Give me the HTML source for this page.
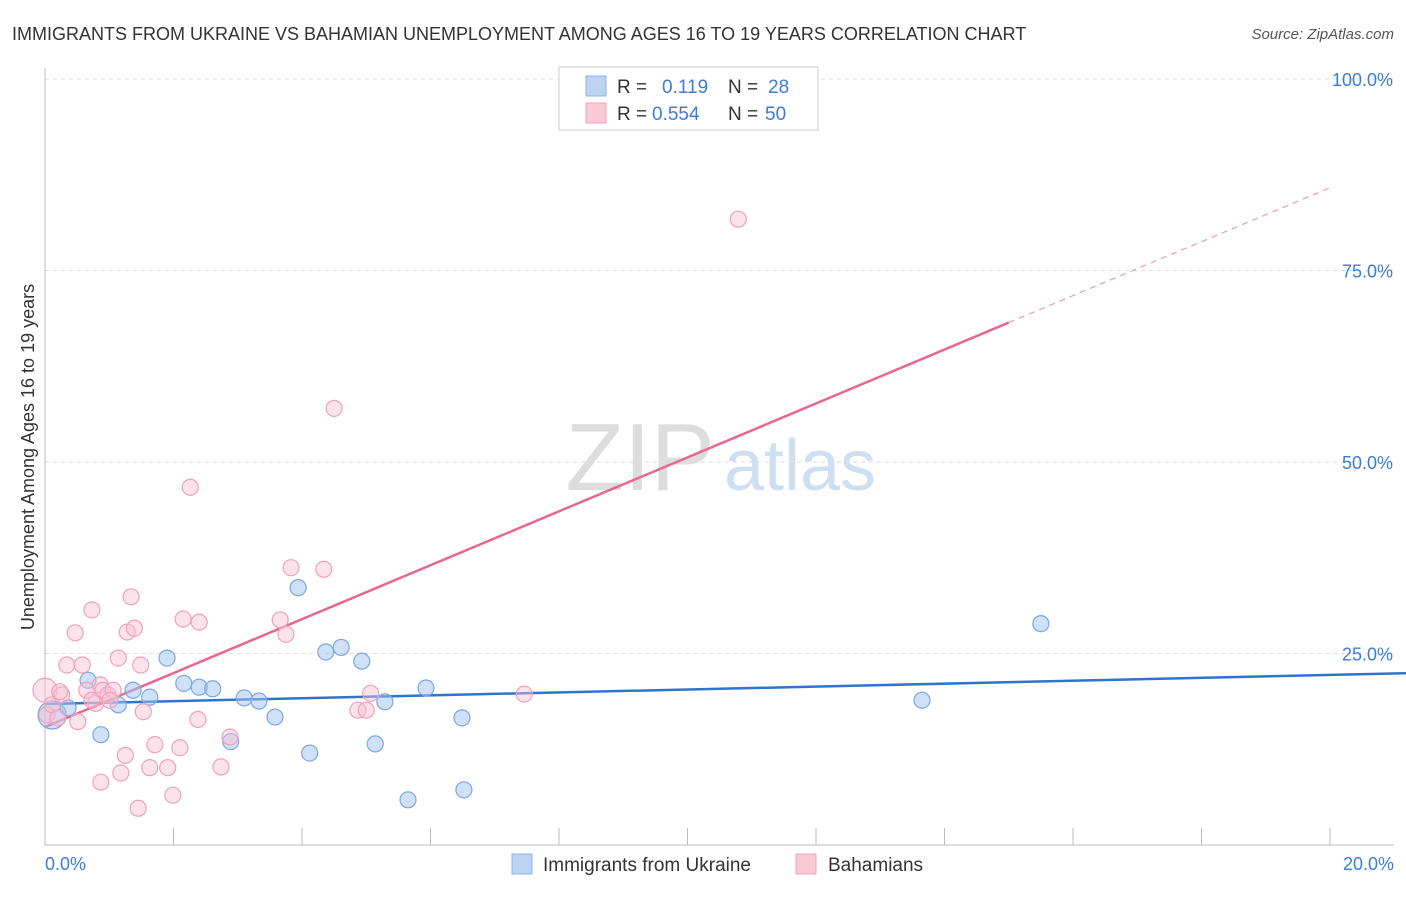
<!DOCTYPE html>
<html><head><meta charset="utf-8"><style>
body{margin:0;background:#fff;font-family:"Liberation Sans",sans-serif}
svg text{font-family:"Liberation Sans",sans-serif}
</style></head><body>
<svg id="chart" width="1406" height="892">
<text x="12" y="40" font-size="18" fill="#333">IMMIGRANTS FROM UKRAINE VS BAHAMIAN UNEMPLOYMENT AMONG AGES 16 TO 19 YEARS CORRELATION CHART</text>
<text x="1394" y="39" font-size="15" fill="#555" font-style="italic" text-anchor="end">Source: ZipAtlas.com</text>
<text x="640" y="490" font-size="96" fill="#ddd" font-family="Liberation Serif" text-anchor="middle">ZIP</text>
<text x="800" y="490" font-size="72" fill="#cfdff2" text-anchor="middle">atlas</text>
<text transform="translate(34,457) rotate(-90)" font-size="18" fill="#333" text-anchor="middle">Unemployment Among Ages 16 to 19 years</text>
<g id="grid"></g><g id="axes"></g><g id="lines"></g><g id="pts"></g>
<g>
<rect x="559" y="67" width="259" height="63" fill="#fff" stroke="#ccc"/>
<rect x="586" y="76" width="20" height="20" fill="#bcd4f4" stroke="#8fb2e6"/>
<rect x="586" y="103" width="20" height="20" fill="#f9c9d8" stroke="#efa3bb"/>
<text x="617" y="93" font-size="19" fill="#333">R = </text><text x="662" y="93" font-size="19" fill="#3b7dd8">0.119</text>
<text x="728" y="93" font-size="19" fill="#333">N = </text><text x="768" y="93" font-size="19" fill="#3b7dd8">28</text>
<text x="617" y="120" font-size="19" fill="#333">R = </text><text x="652" y="120" font-size="19" fill="#3b7dd8">0.554</text>
<text x="728" y="120" font-size="19" fill="#333">N = </text><text x="765" y="120" font-size="19" fill="#3b7dd8">50</text>
</g>
<g>
<rect x="512" y="854" width="20" height="20" fill="#bcd4f4" stroke="#8fb2e6"/>
<text x="543" y="871" font-size="19" fill="#333">Immigrants from Ukraine</text>
<rect x="796" y="854" width="20" height="20" fill="#f9c9d8" stroke="#efa3bb"/>
<text x="828" y="871" font-size="19" fill="#333">Bahamians</text>
</g>
</svg>
<script>
const yTicks=[25,50,75,100];
const xTickCount=10;
const blueX=[0.11,0.36,0.67,0.87,1.14,1.37,1.63,1.90,2.16,2.40,2.61,3.10,3.33,3.58,2.89,3.94,4.12,4.37,4.61,4.93,5.14,5.29,5.65,5.93,6.49,6.52,13.65,15.50];
const blueY=[16.97,17.9,21.5,14.4,18.3,20.2,19.3,24.4,21.1,20.6,20.4,19.2,18.8,16.7,13.5,33.6,12.0,25.2,25.8,24.0,13.2,18.7,5.9,20.5,16.6,7.2,18.9,28.9];
const pinkX=[0.0,0.03,0.11,0.20,0.26,0.34,0.47,0.51,0.58,0.65,0.73,0.79,0.86,0.90,0.98,1.06,0.87,1.14,1.18,1.25,1.28,1.34,1.39,1.45,1.49,1.53,1.63,1.71,1.91,1.99,2.10,2.15,2.26,2.40,2.38,2.74,2.88,3.66,3.75,3.83,4.34,4.50,4.87,5.00,5.07,7.46,10.79,0.23,1.01,0.73];
const pinkY=[20.2,17.0,18.3,16.6,19.6,23.5,27.7,16.1,23.5,20.2,30.7,18.5,20.9,20.2,19.6,20.2,8.2,24.4,9.4,11.7,27.8,32.4,28.3,4.8,23.5,17.4,10.1,13.1,10.1,6.5,12.7,29.5,46.7,29.1,16.4,10.2,14.1,29.4,27.5,36.2,36.0,57.0,17.6,17.6,19.8,19.7,81.7,20.0,18.9,18.9];
const blueFit=[18.4,22.2];
const pinkFit=[15.4,85.8];
const pinkSolidEnd=15.0;
const NS='http://www.w3.org/2000/svg';
const X=v=>45+v/20*1285;
const Y=v=>845-v/25*191.5;
function mk(t,a,p){const e=document.createElementNS(NS,t);for(const k in a)e.setAttribute(k,a[k]);document.getElementById(p).appendChild(e);return e;}
yTicks.forEach(t=>{
 const l=mk('line',{x1:45,x2:1394,y1:Y(t),y2:Y(t),stroke:'#ddd','stroke-dasharray':'4,4'},'grid');
 
 
 const tx=mk('text',{x:1393,y:Y(t)+7,'font-size':18,fill:'#3b7dd8','text-anchor':'end'},'grid');
 tx.textContent=t.toFixed(1)+'%';
 
 
});
const ax=mk('line',{x1:45,x2:45,y1:68,y2:845,stroke:'#bbb'},'axes');


const bx=mk('line',{x1:45,x2:1394,y1:845,y2:845,stroke:'#bbb'},'axes');


for(let i=1;i<=xTickCount;i++){const v=i*20/xTickCount;
 const t=mk('line',{x1:X(v),x2:X(v),y1:828,y2:845,stroke:'#bbb'},'axes');
 
 }
const x0=mk('text',{x:45,y:870,'font-size':18,fill:'#3b7dd8'},'axes');x0.textContent='0.0%';


const x1=mk('text',{x:1394,y:870,'font-size':18,fill:'#3b7dd8','text-anchor':'end'},'axes');x1.textContent='20.0%';


blueX.forEach((v,i)=>{const c=mk('circle',{cx:X(v),cy:Y(blueY[i]),r:i==0?14:8,fill:'rgba(160,195,240,0.5)',stroke:'#7ba7e3','stroke-width':1.2},'pts');
 
 });
pinkX.forEach((v,i)=>{const c=mk('circle',{cx:X(v),cy:Y(pinkY[i]),r:i==0?12:8,fill:'rgba(248,190,210,0.45)',stroke:'#eea2bb','stroke-width':1.2},'pts');
 
 });
const pf=x=>pinkFit[0]+(pinkFit[1]-pinkFit[0])*x/20;
const bl=mk('line',{x1:X(0),y1:Y(blueFit[0]),x2:X(21.7),y2:Y(blueFit[0]+(blueFit[1]-blueFit[0])*21.7/20),stroke:'#2f74d0','stroke-width':2.5},'lines');


const pl=mk('line',{x1:X(0),y1:Y(pf(0)),x2:X(pinkSolidEnd),y2:Y(pf(pinkSolidEnd)),stroke:'#e8678f','stroke-width':2.5},'lines');


const pd=mk('line',{x1:X(pinkSolidEnd),y1:Y(pf(pinkSolidEnd)),x2:X(20),y2:Y(pf(20)),stroke:'#eb9ab3','stroke-width':1.2,'stroke-dasharray':'6,5'},'lines');


</script>
</body></html>
